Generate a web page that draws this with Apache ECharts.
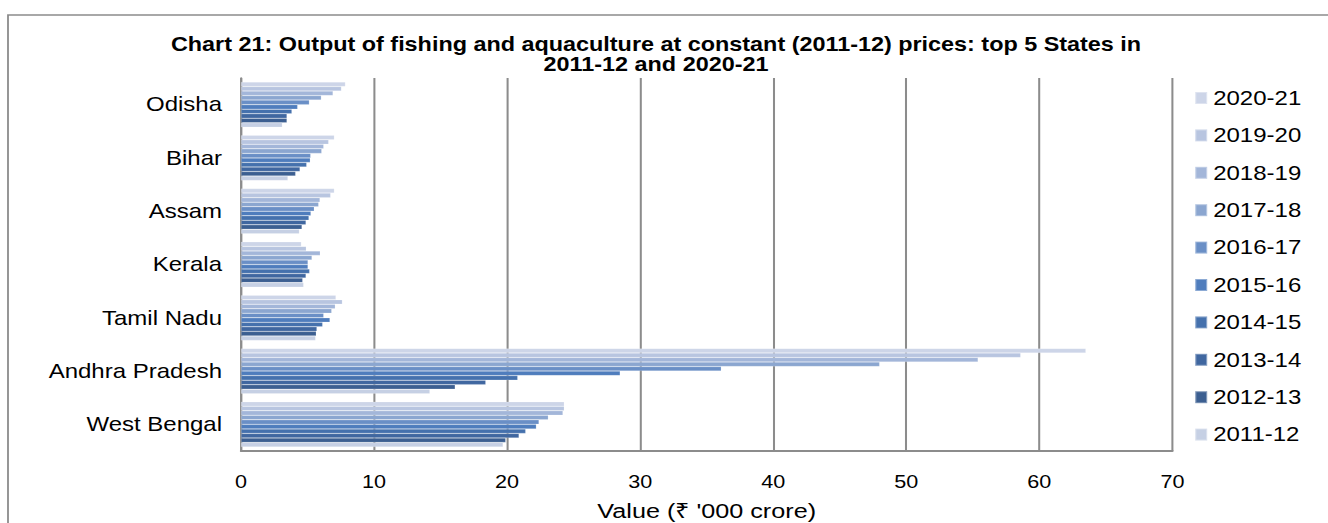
<!DOCTYPE html>
<html>
<head>
<meta charset="utf-8">
<script src="https://cdn.jsdelivr.net/npm/echarts@6/dist/echarts.min.js"></script>
<style>
html,body{margin:0;padding:0;background:#fff;overflow:hidden;}
#wrap{width:1328px;height:523px;overflow:hidden;}
#c{width:1106.67px;height:523px;transform:scaleX(1.2);transform-origin:0 0;}
</style>
</head>
<body>
<div id="wrap"><div id="c"></div></div>
<script>
const categories = ['West Bengal', 'Andhra Pradesh', 'Tamil Nadu', 'Kerala', 'Assam', 'Bihar', 'Odisha'];
const years = ['2020-21', '2019-20', '2018-19', '2017-18', '2016-17', '2015-16', '2014-15', '2013-14', '2012-13', '2011-12'];
const v2011_12 = [19.7, 14.2, 5.61, 4.71, 4.39, 3.53, 3.11];
const v2012_13 = [19.9, 16.1, 5.66, 4.64, 4.59, 4.11, 3.46];
const v2013_14 = [20.9, 18.4, 5.71, 4.89, 4.89, 4.44, 3.46];
const v2014_15 = [21.4, 20.8, 6.14, 5.16, 5.11, 4.94, 3.83];
const v2015_16 = [22.2, 28.5, 6.69, 5.04, 5.26, 5.21, 4.26];
const v2016_17 = [22.4, 36.1, 6.22, 5.04, 5.51, 5.24, 5.14];
const v2017_18 = [23.1, 48.0, 6.82, 5.34, 5.84, 6.07, 6.04];
const v2018_19 = [24.2, 55.4, 7.09, 5.96, 5.94, 6.22, 6.92];
const v2019_20 = [24.3, 58.6, 7.62, 4.91, 6.74, 6.59, 7.55];
const v2020_21 = [24.3, 63.5, 7.14, 4.54, 7.02, 7.02, 7.85];
const xTicks = [0, 10, 20, 30, 40, 50, 60, 70];

const valuesByYear = {
  '2020-21': v2020_21, '2019-20': v2019_20, '2018-19': v2018_19, '2017-18': v2017_18,
  '2016-17': v2016_17, '2015-16': v2015_16, '2014-15': v2014_15, '2013-14': v2013_14,
  '2012-13': v2012_13, '2011-12': v2011_12
};
const colors = {
  '2020-21': '#cdd5e8', '2019-20': '#b8c5e0', '2018-19': '#a3b6d9', '2017-18': '#8ba6d0',
  '2016-17': '#6a8fc6', '2015-16': '#4f7dbd', '2014-15': '#4571ad', '2013-14': '#4067a0',
  '2012-13': '#3c5f91', '2011-12': '#c6d0e4'
};
const SX = 1.2; // horizontal stretch of the whole drawing (reference text is wide)
const px = v => v / SX;
const FONT = '"Liberation Sans", Arial, sans-serif';
const chart = echarts.init(document.getElementById('c'), null, {renderer: 'svg'});
chart.setOption({
  animation: false,
  backgroundColor: '#ffffff',
  textStyle: {fontFamily: FONT},
  graphic: [{
    type: 'rect', silent: true, z: -10,
    shape: {x: px(8), y: 15, width: px(1400), height: 540},
    style: {fill: 'none', stroke: '#8c8c8c', lineWidth: 1.5}
  }],
  title: {
    text: 'Chart 21: Output of fishing and aquaculture at constant (2011-12) prices: top 5 States in\n2011-12 and 2020-21',
    left: px(656), textAlign: 'center', top: 35, padding: 0,
    textStyle: {fontFamily: FONT, fontSize: 19.5, fontWeight: 'bold', color: '#000', lineHeight: 20}
  },
  legend: {
    orient: 'vertical', left: px(1194), top: 87, padding: 0,
    data: years,
    icon: 'rect', itemWidth: px(12), itemHeight: 12, itemGap: 15.4,
    textStyle: {fontFamily: FONT, fontSize: 20, color: '#000', lineHeight: 22}
  },
  grid: {left: px(241), right: px(156), top: 78, bottom: 72, containLabel: false, outerBoundsMode: 'none'},
  xAxis: {
    type: 'value', min: xTicks[0], max: xTicks[xTicks.length - 1], interval: 10,
    name: "Value (₹ '000 crore)", nameLocation: 'middle', nameGap: 49,
    nameTextStyle: {fontFamily: FONT, fontSize: 21, color: '#000'},
    axisLine: {show: true, lineStyle: {color: '#8c8c8c', width: 2}},
    axisTick: {show: false},
    axisLabel: {fontFamily: FONT, fontSize: 18, color: '#000', margin: 22},
    splitLine: {show: true, lineStyle: {color: '#8c8c8c', width: 1.7}}
  },
  yAxis: {
    type: 'category', data: categories,
    axisLine: {show: true, lineStyle: {color: '#8c8c8c', width: 1.7}},
    axisTick: {show: false},
    axisLabel: {fontFamily: FONT, fontSize: 20, color: '#000', margin: px(19)},
    splitLine: {show: false}
  },
  series: years.map(y => ({
    name: y, type: 'bar', data: valuesByYear[y],
    barGap: '0%', barCategoryGap: '15%',
    itemStyle: {color: colors[y], borderColor: 'rgba(255,255,255,0.35)', borderWidth: 0.5},
    emphasis: {disabled: true}
  }))
});
</script>
</body>
</html>
